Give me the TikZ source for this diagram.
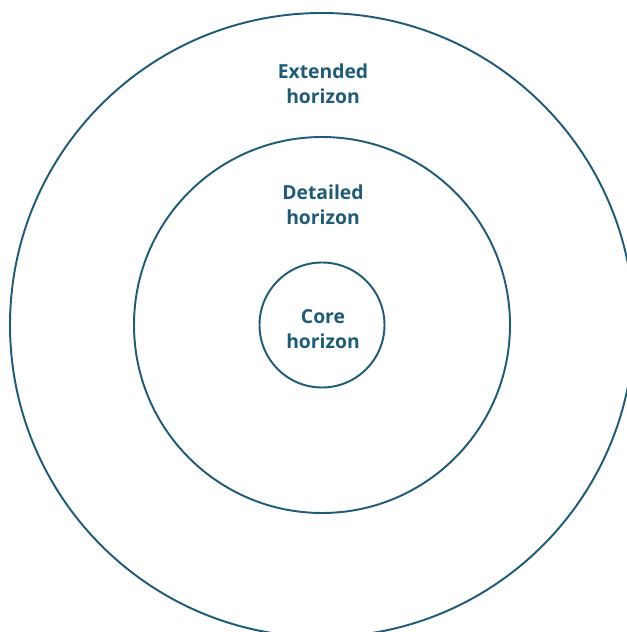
\documentclass[tikz,border=0pt]{standalone}
\usepackage{fontspec}
\setmainfont{Open Sans}
\usepackage{tikz}

\definecolor{ringblue}{HTML}{1D5B79}

\begin{document}
\begin{tikzpicture}
        \useasboundingbox (-6.44, -6.14) rectangle (6.08, 6.5);

        \tikzset{ring/.style={draw=ringblue, line width=1.1pt},
                 label/.style={text=ringblue, font=\fontsize{11}{14.5}\selectfont\bfseries, align=center}}

        \draw[ring] (0, 0) circle (6.24);
        \draw[ring] (0, 0) circle (3.76);
        \draw[ring] (0, 0) circle (1.25);

        \node[label] (extended) at (0.02, 4.82) {Extended\\horizon};
        \node[label] (detailed) at (0.02, 2.4) {Detailed\\horizon};
        \node[label] (core) at (0.02, -0.08) {Core\\horizon};
      \end{tikzpicture}
\end{document}
